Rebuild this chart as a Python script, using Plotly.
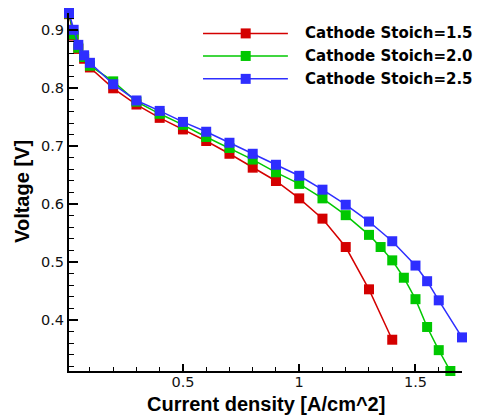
import plotly.graph_objects as go

# Polarization curves: current density [A/cm^2] vs cell voltage [V]
current_15 = [0.01, 0.03, 0.05, 0.075, 0.1, 0.2, 0.3, 0.4, 0.5, 0.6, 0.7, 0.8, 0.9,
              1.0, 1.1, 1.2, 1.3, 1.4]
voltage_15 = [0.928, 0.891, 0.868, 0.851, 0.836, 0.800, 0.772, 0.749, 0.729, 0.709,
              0.687, 0.663, 0.640, 0.610, 0.575, 0.526, 0.453, 0.366]

current_20 = [0.01, 0.03, 0.05, 0.075, 0.1, 0.2, 0.3, 0.4, 0.5, 0.6, 0.7, 0.8, 0.9,
              1.0, 1.1, 1.2, 1.3, 1.35, 1.4, 1.45, 1.5, 1.55, 1.6, 1.65]
voltage_20 = [0.929, 0.893, 0.870, 0.854, 0.839, 0.812, 0.777, 0.756, 0.737, 0.716,
              0.697, 0.677, 0.655, 0.635, 0.610, 0.581, 0.547, 0.526, 0.503, 0.473,
              0.436, 0.388, 0.348, 0.312]

current_25 = [0.01, 0.03, 0.05, 0.075, 0.1, 0.2, 0.3, 0.4, 0.5, 0.6, 0.7, 0.8, 0.9,
              1.0, 1.1, 1.2, 1.3, 1.4, 1.5, 1.55, 1.6, 1.7]
voltage_25 = [0.930, 0.901, 0.875, 0.857, 0.844, 0.807, 0.779, 0.761, 0.742, 0.725,
              0.706, 0.687, 0.668, 0.649, 0.625, 0.599, 0.570, 0.536, 0.494, 0.467,
              0.434, 0.370]

series_names = ["Cathode Stoich=1.5", "Cathode Stoich=2.0", "Cathode Stoich=2.5"]
series_colors = ["#d40000", "#00c800", "#2e2eff"]
series_x = [current_15, current_20, current_25]
series_y = [voltage_15, voltage_20, voltage_25]

x_title = "Current density [A/cm^2]"
y_title = "Voltage [V]"

fig = go.Figure()
for name, color, xs, ys in zip(series_names, series_colors, series_x, series_y):
    fig.add_trace(go.Scatter(
        x=xs, y=ys, name=name, mode="lines+markers",
        line=dict(color=color, width=1.5),
        marker=dict(symbol="square", size=10, color=color),
        cliponaxis=False, showlegend=False,
    ))

# Hand-built legend: long line segment with a centred square marker
legend_x0, legend_x1, legend_mark, legend_text = 0.341, 0.557, 0.4496, 0.596
legend_rows = [0.943, 0.880, 0.816]
shapes = []
annotations = []
for name, color, yr in zip(series_names, series_colors, legend_rows):
    shapes.append(dict(type="line", xref="paper", yref="paper",
                       x0=legend_x0, x1=legend_x1, y0=yr, y1=yr,
                       line=dict(color=color, width=1.5)))
    shapes.append(dict(type="rect", xref="paper", yref="paper",
                       xsizemode="pixel", ysizemode="pixel",
                       xanchor=legend_mark, yanchor=yr,
                       x0=-5, x1=5, y0=-5, y1=5,
                       fillcolor=color, line=dict(width=0)))
    annotations.append(dict(text=name, xref="paper", yref="paper",
                            x=legend_text, y=yr, xanchor="left", yanchor="middle",
                            showarrow=False,
                            font=dict(family="DejaVu Sans", size=15, color="black",
                                      weight="bold")))

tick_font = dict(family="DejaVu Sans", size=14.5, color="#111111")
title_font = dict(family="Liberation Sans", size=20, color="black", weight="bold")

# Axis titles placed as annotations for exact positioning
annotations.append(dict(text=x_title, xref="paper", yref="paper",
                        x=0.5, y=-0.0935, xanchor="center", yanchor="middle",
                        showarrow=False, font=title_font, borderpad=0))
annotations.append(dict(text=y_title, xref="paper", yref="paper",
                        x=-0.1196, y=0.503, xanchor="center", yanchor="middle",
                        textangle=-90, showarrow=False, font=title_font))

fig.update_layout(
    width=477, height=415,
    margin=dict(l=69, r=15, t=13, b=44, pad=0, autoexpand=False),
    paper_bgcolor="white", plot_bgcolor="white",
    shapes=shapes, annotations=annotations,
    xaxis=dict(
        range=[0.01, 1.7], tick0=0, dtick=0.5, automargin=False,
        ticklabelstandoff=-3,
        showline=True, linecolor="black", linewidth=2, mirror=False,
        showgrid=False, zeroline=False,
        ticks="inside", ticklen=7, tickwidth=1.5, tickcolor="black",
        minor=dict(dtick=0.1, tick0=0, ticks="inside", ticklen=4,
                   tickwidth=1, tickcolor="black", showgrid=False),
        tickfont=tick_font,
    ),
    yaxis=dict(
        range=[0.312, 0.93], tick0=0, dtick=0.1, automargin=False,
        showline=True, linecolor="black", linewidth=2, mirror=False,
        showgrid=False, zeroline=False,
        ticks="inside", ticklen=9, tickwidth=1.5, tickcolor="black",
        minor=dict(dtick=0.02, tick0=0, ticks="inside", ticklen=5,
                   tickwidth=1, tickcolor="black", showgrid=False),
        tickfont=tick_font,
    ),
)

fig.write_html("out.html")
